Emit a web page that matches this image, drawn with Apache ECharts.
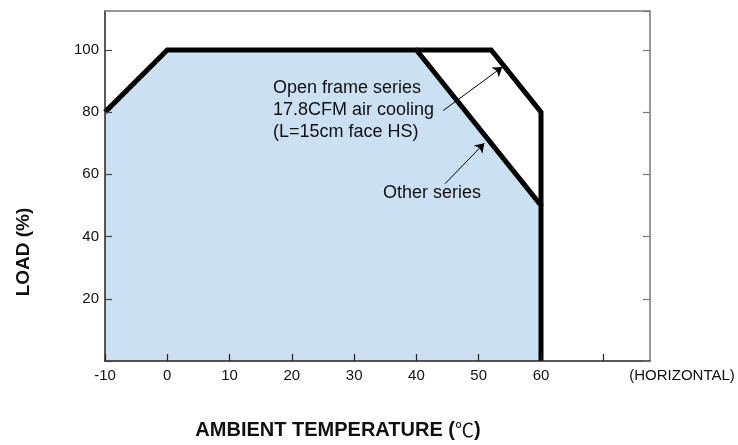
<!DOCTYPE html>
<html>
<head>
<meta charset="utf-8">
<script src="https://cdn.jsdelivr.net/npm/echarts@6/dist/echarts.min.js"></script>
<style>html,body{margin:0;padding:0;background:#fff}#c{width:738px;height:445px}</style>
</head>
<body>
<div id="c"></div>
<script>
// ---- data ----
const xTickLabels = ['-10', '0', '10', '20', '30', '40', '50', '60'];
const yTickLabels = ['20', '40', '60', '80', '100'];
const otherSeries = [[-10, 80], [0, 100], [40, 100], [60, 50], [60, 0]];
const openFrameSeries = [[40, 100], [52, 100], [60, 80], [60, 50]];
const arrowOpenFrame = [[44.3, 80.5], [53.8, 94.5]];
const arrowOther = [[44.6, 57], [50.9, 70]];
const openFrameText = 'Open frame series\n17.8CFM air cooling\n(L=15cm face HS)';
const otherText = 'Other series';
const xNameParts = ['AMBIENT TEMPERATURE (', '℃', ')'];
const yName = 'LOAD (%)';
const xEndName = '(HORIZONTAL)';

const SANS = "'Liberation Sans', Arial, sans-serif";
const CJK = "'Noto Sans CJK SC', sans-serif";

const chart = echarts.init(document.getElementById('c'), null, {renderer: 'canvas'});
const option = {
  animation: false,
  grid: {left: 105, right: 88, top: 11, bottom: 84, containLabel: false, outerBoundsMode: 'none'},
  xAxis: [{
    type: 'value', min: -10, max: 77.5, interval: 10, position: 'bottom', z: 8,
    name: xEndName, nameLocation: 'end', nameGap: 32,
    nameTextStyle: {fontFamily: SANS, fontSize: 15, color: '#111', align: 'center', verticalAlign: 'top', padding: [7, 0, 0, 0]},
    axisLine: {show: true, onZero: false, lineStyle: {color: '#222', width: 1.5}},
    axisTick: {show: true, inside: true, length: 7, lineStyle: {color: '#222', width: 1.2}},
    axisLabel: {
      color: '#111', fontFamily: SANS, fontSize: 15, margin: 7, showMaxLabel: false,
      formatter: v => xTickLabels.indexOf(String(v)) >= 0 ? String(v) : ''
    },
    splitLine: {show: false}
  }, {
    type: 'value', min: -10, max: 77.5, interval: 10, position: 'top', z: 8,
    axisLine: {show: true, onZero: false, lineStyle: {color: '#777', width: 1.5}},
    axisTick: {show: false}, axisLabel: {show: false}, splitLine: {show: false}
  }],
  yAxis: [{
    type: 'value', min: 0, max: 112.5, interval: 20, position: 'left', z: 8,
    axisLine: {show: true, onZero: false, lineStyle: {color: '#222', width: 1.5}},
    axisTick: {show: true, inside: true, length: 7, lineStyle: {color: '#444', width: 1.2}},
    axisLabel: {
      color: '#111', fontFamily: SANS, fontSize: 15, margin: 6, showMaxLabel: false,
      formatter: v => yTickLabels.indexOf(String(v)) >= 0 ? String(v) : ''
    },
    splitLine: {show: false}
  }, {
    type: 'value', min: 0, max: 112.5, interval: 20, position: 'right', z: 8,
    axisLine: {show: true, onZero: false, lineStyle: {color: '#777', width: 1.5}},
    axisTick: {show: true, inside: true, length: 7, lineStyle: {color: '#777', width: 1.2}},
    axisLabel: {show: false}, splitLine: {show: false}
  }],
  series: [{
    name: 'Other series', type: 'line', data: otherSeries, symbol: 'none',
    lineStyle: {color: '#000', width: 5, join: 'miter'},
    areaStyle: {color: '#cbe0f3', opacity: 1},
    z: 3
  }, {
    name: 'Open frame series', type: 'line', data: openFrameSeries, symbol: 'none',
    lineStyle: {color: '#000', width: 5, join: 'miter'},
    z: 4
  }, {
    name: 'arrows', type: 'line', data: [], symbol: 'none', z: 6,
    markLine: {
      silent: true, animation: false,
      lineStyle: {color: '#000', width: 1, type: 'solid'}, label: {show: false},
      emphasis: {disabled: true},
      data: [
        [{coord: arrowOther[0], symbol: 'none'}, {coord: arrowOther[1], symbol: 'arrow', symbolSize: 9}],
        [{coord: arrowOpenFrame[0], symbol: 'none'}, {coord: arrowOpenFrame[1], symbol: 'arrow', symbolSize: 9}]
      ]
    }
  }],
  graphic: [
    {type: 'text', x: 273, y: 77, z: 10, style: {text: openFrameText, font: '18px ' + SANS, fill: '#111', lineHeight: 22, textAlign: 'left', textVerticalAlign: 'top'}},
    {type: 'text', x: 383, y: 193, z: 10, style: {text: otherText, font: '18px ' + SANS, fill: '#111', textAlign: 'left', textVerticalAlign: 'middle'}},
    {type: 'text', x: 338, y: 430, z: 10, style: {
      text: '{b|' + xNameParts[0] + '}{c|' + xNameParts[1] + '}{b|' + xNameParts[2] + '}',
      textAlign: 'center', textVerticalAlign: 'middle',
      rich: {
        b: {font: 'bold 20px ' + SANS, fill: '#111'},
        c: {font: '19px ' + CJK, fill: '#111'}
      }
    }},
    {type: 'text', x: 24, y: 252, z: 10, rotation: Math.PI / 2, style: {text: yName, font: 'bold 19px ' + SANS, fill: '#111', textAlign: 'center', textVerticalAlign: 'middle'}}
  ]
};
chart.setOption(option);
</script>
</body>
</html>
